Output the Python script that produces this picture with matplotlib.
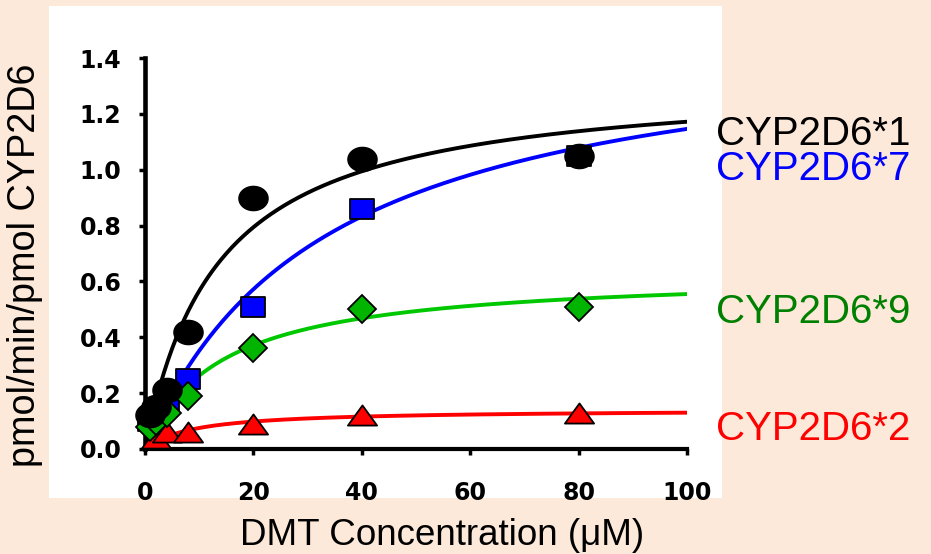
import numpy as np
import matplotlib
matplotlib.use('Agg')
import matplotlib.pyplot as plt
from matplotlib.patches import Rectangle
from matplotlib.path import Path

# DMT concentrations (uM) and measured activity (pmol/min/pmol CYP2D6)
conc = [1, 2, 4, 8, 20, 40, 80]
act_1 = [0.12, 0.15, 0.21, 0.42, 0.90, 1.04, 1.05]
act_7 = [0.10, 0.13, 0.16, 0.25, 0.51, 0.86, 1.05]
act_9 = [0.08, 0.10, 0.13, 0.19, 0.36, 0.50, 0.51]
conc_2 = [2, 4, 8, 20, 40, 80]
act_2 = [0.04, 0.06, 0.06, 0.09, 0.12, 0.13]

# Michaelis-Menten fit parameters (Vmax, Km)
vmax = {'*1': 1.33, '*7': 1.53, '*9': 0.633, '*2': 0.1415}
km = {'*1': 13.5, '*7': 33.5, '*9': 14.1, '*2': 8.8}

labels = ['CYP2D6*1', 'CYP2D6*7', 'CYP2D6*9', 'CYP2D6*2']

W, H = 931, 554
fig = plt.figure(figsize=(W / 100, H / 100), dpi=100)
fig.patch.set_facecolor('#FDE9D9')
fig.patches.append(Rectangle((49 / W, 1 - 498 / H), 673 / W, 492 / H,
                             transform=fig.transFigure, facecolor='white',
                             edgecolor='none', zorder=0))

ax = fig.add_axes([145 / W, 1 - 449 / H, 542 / W, 391 / H])
ax.set_facecolor('none')
ax.set_zorder(2)

xs = np.linspace(0, 100, 400)
def mm(k):
    return vmax[k] * xs / (km[k] + xs)

ax.plot(xs, mm('*2'), color='#FF0000', lw=2.8, zorder=2)
ax.plot(xs, mm('*9'), color='#00C800', lw=2.8, zorder=2)
ax.plot(xs, mm('*7'), color='#0000FF', lw=2.8, zorder=2)
ax.plot(xs, mm('*1'), color='black', lw=2.8, zorder=2)

t = np.linspace(0, 2 * np.pi, 60)
ellipse = Path(np.column_stack([np.cos(t), 0.83 * np.sin(t)]))
tri = Path([(0, 0.69), (-1, -0.69), (1, -0.69), (0, 0.69)], closed=True)
rect = Path([(-1, -0.88), (1, -0.88), (1, 0.88), (-1, 0.88), (-1, -0.88)], closed=True)

ax.plot(conc, act_7, ls='none', marker=rect, ms=17, mfc='#0000FF', mec='black', mew=1.3,
        zorder=3, clip_on=False)
ax.plot(conc_2, act_2, ls='none', marker=tri, ms=21, mfc='#FF0000', mec='black', mew=1.3,
        zorder=4, clip_on=False)
ax.plot(conc, act_9, ls='none', marker='D', ms=14, mfc='#00B400', mec='black', mew=1.3,
        zorder=5, clip_on=False)
ax.plot(conc, act_1, ls='none', marker=ellipse, ms=21, mfc='black', mec='black', mew=1,
        zorder=6, clip_on=False)

ax.set_xlim(0, 100)
ax.set_ylim(0, 1.4)
ax.set_xticks(np.arange(0, 101, 20))
ax.set_yticks(np.arange(0, 1.41, 0.2))
ax.set_yticklabels([f'{v:.1f}' for v in np.arange(0, 1.41, 0.2)])
for s in ['top', 'right']:
    ax.spines[s].set_visible(False)
ax.spines['left'].set_linewidth(3.3)
ax.spines['bottom'].set_linewidth(3.0)
ax.tick_params(axis='both', direction='out', length=4, width=2.5, labelsize=17)
ax.tick_params(axis='x', pad=19)
ax.tick_params(axis='y', pad=13)
for lab in ax.get_xticklabels() + ax.get_yticklabels():
    lab.set_fontweight('bold')
    lab.set_family('DejaVu Sans')

font = 'Liberation Sans'
fig.text(442 / W, 1 - 545 / H, 'DMT Concentration (μM)', ha='center', va='baseline',
         fontsize=26.5, family=font)
fig.text(25 / W, 1 - 265 / H, 'pmol/min/pmol CYP2D6', rotation=90, ha='center',
         va='center', fontsize=27.2, family=font)

label_colors = ['black', '#0000FF', '#008000', '#FF0000']
label_base = [145, 180, 323, 440]
for txt, c, yb in zip(labels, label_colors, label_base):
    fig.text(716 / W, 1 - yb / H, txt, color=c, ha='left', va='baseline',
             fontsize=29, family=font)

plt.savefig('out.png', dpi=100, facecolor=fig.get_facecolor())
